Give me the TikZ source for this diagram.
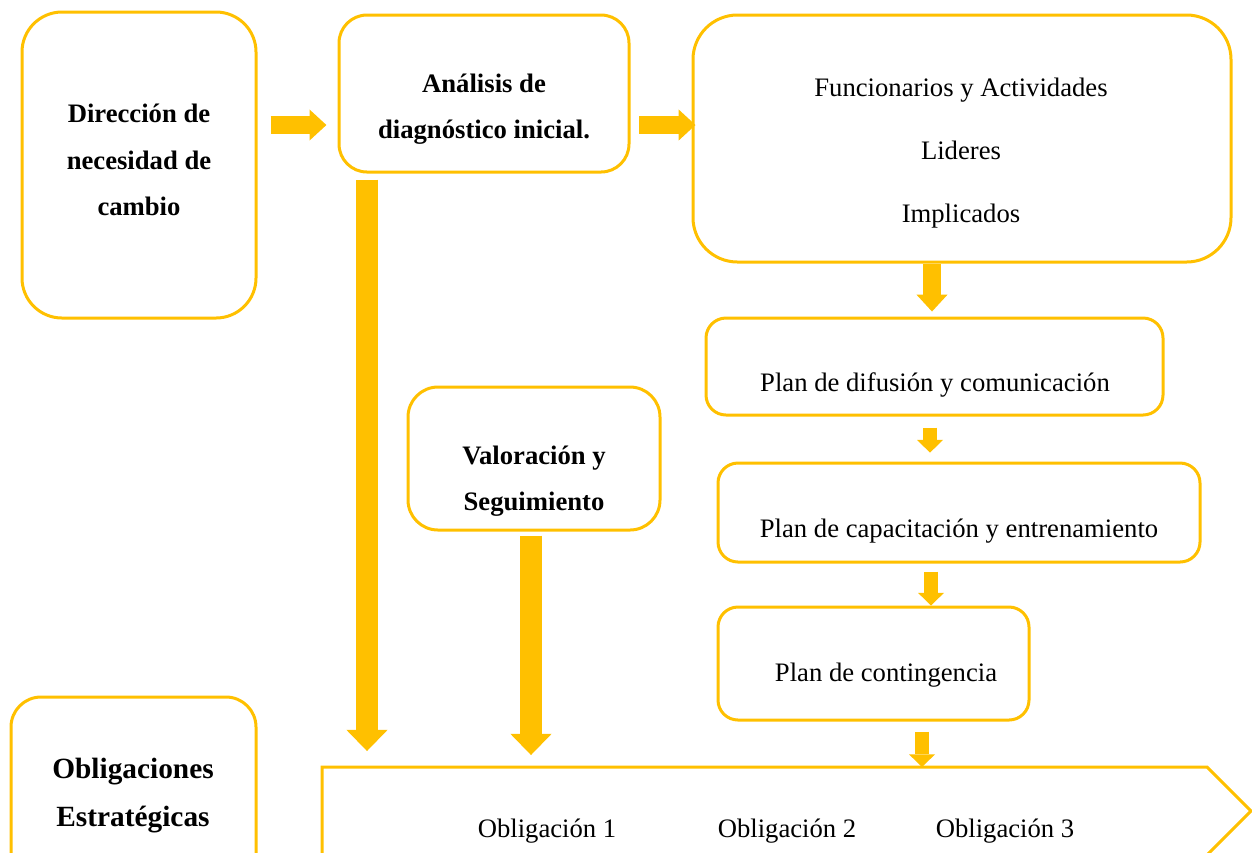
\documentclass[tikz,border=0pt]{standalone}
\usepackage{fontspec}
\setmainfont{Liberation Serif}
\usetikzlibrary{arrows.meta,fit}

\definecolor{ambar}{HTML}{FFC000}

\tikzset{
  caja/.style={draw=ambar, line width=1.35pt, fill=white, rounded corners=#1, inner sep=0pt},
  caja/.default=9pt,
  txt/.style={font=\fontsize{12}{21}\selectfont, align=center, inner sep=0pt},
  flechagrande/.style={draw=ambar, line width=9.5pt, -{Triangle[length=9.5pt, width=18.5pt, line width=0pt]}},
  flechamedia/.style={draw=ambar, line width=7.8pt, -{Triangle[length=7.6pt, width=14pt, line width=0pt]}},
  flechachica/.style={draw=ambar, line width=6.6pt, -{Triangle[length=5.7pt, width=11.7pt, line width=0pt]}},
}

\begin{document}
\begin{tikzpicture}[x=0.45pt, y=-0.45pt]
    \useasboundingbox (0,0) rectangle (1252,852);
    \clip (0,0) rectangle (1252,852);

    % cajas
    \node[caja=18pt, fit={(22,12) (256,318)}] (dir) {};
    \node[caja=12.6pt, fit={(339,15) (629,172)}] (ana) {};
    \node[caja=20pt, fit={(693,15) (1231,262)}] (fun) {};
    \node[caja, fit={(706,318) (1163,415)}] (dif) {};
    \node[caja, fit={(718,463) (1200,562)}] (cap) {};
    \node[caja, fit={(718,607) (1029,720)}] (con) {};
    \node[caja=13.5pt, fit={(408,387) (660,530)}] (val) {};
    \node[caja=13.5pt, fit={(11,697) (256,890)}] (obl) {};

    % flecha de obligaciones
    \draw[draw=ambar, line width=1.35pt] (322,890) -- (322,767) -- (1207,767) -- (1251,811) -- (1207,855) -- (322,855);
    \coordinate (pent) at (322,767);

    % textos
    \node[txt, font=\fontsize{12}{21}\selectfont\bfseries] (dirT) at (139,160) {Dirección de\\necesidad de\\cambio};
    \node[txt, font=\fontsize{12}{21}\selectfont\bfseries] (anaT) at (484,109) {Análisis de\\diagnóstico inicial.};
    \node[txt, font=\fontsize{12}{28.4}\selectfont] (funT) at (961,153) {Funcionarios y Actividades\\Lideres\\Implicados};
    \node[txt] (difT) at (935,385) {Plan de difusión y comunicación};
    \node[txt] (capT) at (959,531) {Plan de capacitación y entrenamiento};
    \node[txt] (conT) at (886,675) {Plan de contingencia};
    \node[txt, font=\fontsize{12}{21}\selectfont\bfseries] (valT) at (534,481) {Valoración y\\Seguimiento};
    \node[txt, font=\fontsize{13.2}{21.6}\selectfont\bfseries] (oblT) at (133,796) {Obligaciones\\Estratégicas};
    \node[txt] (ob1) at (547,831) {Obligación 1};
    \node[txt] (ob2) at (787,831) {Obligación 2};
    \node[txt] (ob3) at (1005,831) {Obligación 3};

    % flechas
    \draw[flechamedia, shorten <=5.85pt, shorten >=5pt] (dir.east |- 0,125) -- (ana.west |- 0,125);
    \draw[flechamedia, shorten <=4pt, shorten >=-1.8pt] (ana.east |- 0,125) -- (fun.west |- 0,125);
    \draw[flechamedia, shorten >=2.25pt] (fun.south -| 932,0) -- (dif.north -| 932,0);
    \draw[flechachica, shorten <=5pt, shorten >=4pt] (dif.south -| 930,0) -- (cap.north -| 930,0);
    \draw[flechachica, shorten <=3.6pt] (cap.south -| 931,0) -- (con.north -| 931,0);
    \draw[flechachica, shorten <=4.5pt] (con.south -| 922,0) -- (pent -| 922,0);
    \draw[flechagrande, shorten <=2.7pt, shorten >=7.2pt] (ana.south -| 367,0) -- (pent -| 367,0);
    \draw[flechagrande, shorten <=1.8pt, shorten >=5.4pt] (val.south -| 531,0) -- (pent -| 531,0);

\end{tikzpicture}
\end{document}
